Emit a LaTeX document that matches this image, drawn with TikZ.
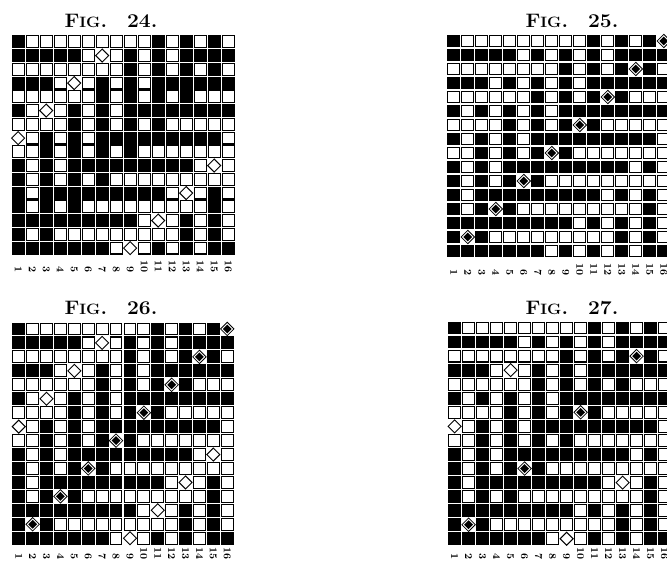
\documentclass[tikz,border=0pt]{standalone}
\usepackage{graphicx}
\tikzset{
  cellw/.style={draw=black, fill=white, line width=1.05pt},
  cellb/.style={draw=black, fill=black, line width=1.05pt},
  odia/.style={draw=black, fill=white, line width=0.95pt},
  fdiaout/.style={draw=black, fill=white, line width=0.8pt},
  fdiain/.style={fill=black},
  lab/.style={rotate=-90, anchor=east, inner sep=0pt, font=\fontsize{10.5}{10.5}\selectfont\bfseries},
  ttl/.style={anchor=base, inner sep=0pt, font=\fontsize{19.5}{20}\selectfont\bfseries}
}
\newcommand{\figtitle}[1]{\scalebox{1.08}[1]{F{\fontsize{15}{15}\selectfont IG}.\hspace{0.95em}#1.}}
% #1 x0, #2 y0, #3 px, #4 py, #5 open mode, #6 filled mode, #7 label y, #8 name
\newcommand{\weavegrid}[8]{%
  \foreach \wr in {1,...,16}{%
    \foreach \wc in {1,...,16}{%
      \pgfmathsetmacro{\wcx}{#1+(\wc-0.5)*#3}%
      \pgfmathsetmacro{\wcy}{#2+(\wr-0.5)*#4}%
      \pgfmathtruncatemacro{\woddr}{mod(\wr,2)}%
      \ifnum\woddr=1
        \pgfmathtruncatemacro{\wdd}{mod(\wc+\wr+20,16)}%
        \pgfmathtruncatemacro{\wfm}{((#6==1)||((#6==2)&&(mod(\wr,4)==3))) ? 1 : 0}%
        \pgfmathtruncatemacro{\wkind}{((\wdd==5)&&(\wfm==1)) ? 3 : (((\wdd<8)&&(mod(\wdd,2)==0)) ? 1 : 0)}%
      \else
        \pgfmathtruncatemacro{\wdd}{mod(\wc+\wr+24,16)}%
        \pgfmathtruncatemacro{\wom}{((#5==1)||((#5==2)&&(mod(\wr,4)==0))) ? 1 : 0}%
        \pgfmathtruncatemacro{\wkind}{((\wdd==1)&&(\wom==1)) ? 2 : (((\wdd<8)&&(mod(\wdd,2)==0)) ? 0 : 1)}%
      \fi
      \ifcase\wkind
        \draw[cellw] (\wcx-5.9,\wcy-5.9) rectangle (\wcx+5.9,\wcy+5.9);
      \or
        \draw[cellb] (\wcx-5.9,\wcy-5.9) rectangle (\wcx+5.9,\wcy+5.9);
      \or
        \draw[odia] (\wcx,\wcy-6.5) -- (\wcx+6.5,\wcy) -- (\wcx,\wcy+6.5) -- (\wcx-6.5,\wcy) -- cycle;
      \or
        \draw[fdiaout] (\wcx,\wcy-6.7) -- (\wcx+6.7,\wcy) -- (\wcx,\wcy+6.7) -- (\wcx-6.7,\wcy) -- cycle;
        \fill[fdiain] (\wcx,\wcy-4.4) -- (\wcx+4.4,\wcy) -- (\wcx,\wcy+4.4) -- (\wcx-4.4,\wcy) -- cycle;
      \fi
    }%
  }%
  \foreach \wc in {1,...,16}{%
    \pgfmathsetmacro{\wcx}{#1+(\wc-0.5)*#3}%
    \node[lab] (#8-\wc) at (\wcx,#7) {\wc};
  }%
}
\begin{document}
\begin{tikzpicture}[x=1pt,y=-1pt]
  \useasboundingbox (0,0) rectangle (667,561);
  \clip (0,0) rectangle (667,561);
  \fill[white] (0,0) rectangle (667,561);
  % titles
  \node[ttl] (t24) at (111,27.5) {\figtitle{24}};
  \node[ttl] (t25) at (572,27.5) {\figtitle{25}};
  \node[ttl] (t26) at (111,314.5) {\figtitle{26}};
  \node[ttl] (t27) at (572,314.5) {\figtitle{27}};
  % grids
  \weavegrid{11.2}{35}{14.0}{13.75}{1}{0}{273}{g24}
  \weavegrid{446.8}{34}{14.0}{14.0}{0}{1}{276}{g25}
  \weavegrid{11.8}{322}{13.9}{13.95}{1}{1}{560}{g26}
  \weavegrid{447.6}{321}{14.0}{14.05}{2}{2}{560}{g27}
\end{tikzpicture}
\end{document}
